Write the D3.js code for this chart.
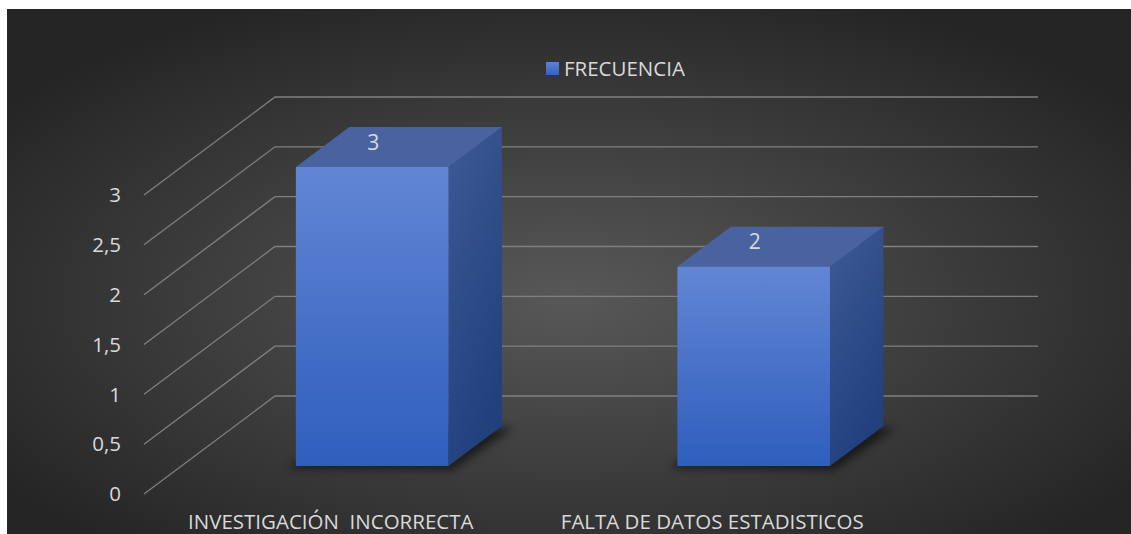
<!DOCTYPE html>
<html>
<head>
<meta charset="utf-8">
<script src="https://cdn.jsdelivr.net/npm/d3@7"></script>
<style>
  html, body { margin: 0; padding: 0; background: #ffffff; }
  svg { display: block; }
  text { font-family: "Open Sans", sans-serif; }
</style>
</head>
<body>
<svg id="chart" width="1131" height="534"></svg>
<script>
// ---- data ----
const categories = ["INVESTIGACIÓN  INCORRECTA", "FALTA DE DATOS ESTADISTICOS"];
const values = [3, 2];
const seriesName = "FRECUENCIA";
const yTicks = [0, 0.5, 1, 1.5, 2, 2.5, 3];
const yTickLabels = ["0", "0,5", "1", "1,5", "2", "2,5", "3"];

// ---- layout ----
const W = 1131, H = 534;
const svg = d3.select("#chart");
const defs = svg.append("defs");

const bg = defs.append("radialGradient").attr("id", "bg")
  .attr("cx", "50%").attr("cy", "55%").attr("r", "62%");
bg.append("stop").attr("offset", "0%").attr("stop-color", "#585858");
bg.append("stop").attr("offset", "100%").attr("stop-color", "#252525");

const front = defs.append("linearGradient").attr("id", "front")
  .attr("x1", 0).attr("y1", 0).attr("x2", 0).attr("y2", 1);
front.append("stop").attr("offset", "0%").attr("stop-color", "#6286d4");
front.append("stop").attr("offset", "100%").attr("stop-color", "#2f5ebd");

const side = defs.append("linearGradient").attr("id", "side")
  .attr("x1", 0).attr("y1", 0).attr("x2", 0.4).attr("y2", 1);
side.append("stop").attr("offset", "0%").attr("stop-color", "#3e5a97");
side.append("stop").attr("offset", "100%").attr("stop-color", "#21407d");

const leg = defs.append("linearGradient").attr("id", "leg")
  .attr("x1", 0).attr("y1", 0).attr("x2", 0).attr("y2", 1);
leg.append("stop").attr("offset", "0%").attr("stop-color", "#5b82d4");
leg.append("stop").attr("offset", "100%").attr("stop-color", "#3362c2");

defs.append("filter").attr("id", "blur").attr("x", "-20%").attr("y", "-20%")
  .attr("width", "140%").attr("height", "140%")
  .append("feGaussianBlur").attr("stdDeviation", 4);

svg.append("rect").attr("x", 7).attr("y", 9).attr("width", W - 7).attr("height", H - 9)
  .attr("fill", "url(#bg)");

// 3D projection
const DX = 131, DY = 98;       // full floor depth offset
const d0 = 0.2857, d1 = 0.694; // bar front / back depth
const x = d3.scaleBand().domain(categories).range([144, 907]).padding(0);
const y = d3.scaleLinear().domain([0, 3]).range([494, 195]);
const proj = (px, v, d) => [px + d * DX, y(v) - d * DY];

const gridColor = "#808080";
const textColor = "#d9d9d9";

// side wall diagonals + back wall horizontals
const grid = svg.append("g").attr("fill", "none").attr("stroke", gridColor).attr("stroke-width", 1.3);
yTicks.forEach(t => {
  const a = proj(x.range()[0], t, 0);
  const b = proj(x.range()[0], t, 1);
  const c = proj(x.range()[1], t, 1);
  grid.append("polyline").attr("points", [a, b, c].map(p => p.join(",")).join(" "));
});

// y tick labels
svg.append("g").selectAll("text").data(yTicks).join("text")
  .attr("x", 121).attr("y", d => y(d)).attr("dy", "0.35em")
  .attr("text-anchor", "end").attr("fill", textColor).attr("font-size", 20.5)
  .text((d, i) => yTickLabels[i]);

// bars
const bars = svg.append("g");
categories.forEach((c, i) => {
  const v = values[i];
  const bw = x.bandwidth() * 0.4;
  const x0 = x(c) + x.bandwidth() * 0.3, x1 = x0 + bw;
  const fbl = proj(x0, 0, d0), fbr = proj(x1, 0, d0), ftl = proj(x0, v, d0), ftr = proj(x1, v, d0);
  const bbl = proj(x0, 0, d1), bbr = proj(x1, 0, d1), btl = proj(x0, v, d1), btr = proj(x1, v, d1);
  const pts = a => a.map(p => p.join(",")).join(" ");
  // shadow
  bars.append("polygon")
    .attr("points", pts([[fbl[0] - 8, fbl[1] + 2], [fbr[0] + 4, fbr[1] + 4], [bbr[0] + 12, bbr[1] + 2], [bbl[0], bbl[1]]]))
    .attr("fill", "#000").attr("opacity", 0.55).attr("filter", "url(#blur)");
  // side face
  bars.append("polygon").attr("points", pts([ftr, btr, bbr, fbr])).attr("fill", "url(#side)");
  // top face
  bars.append("polygon").attr("points", pts([ftl, ftr, btr, btl])).attr("fill", "#48639f");
  // front face
  bars.append("rect").attr("x", ftl[0]).attr("y", ftl[1])
    .attr("width", bw).attr("height", fbl[1] - ftl[1]).attr("fill", "url(#front)");
  // value label
  bars.append("text").attr("x", (ftl[0] + ftr[0]) / 2 + 1).attr("y", ftl[1] - 17.5)
    .attr("text-anchor", "middle").attr("fill", textColor).attr("font-size", 21)
    .text(String(v));
});

// category labels
svg.append("g").selectAll("text").data(categories).join("text")
  .attr("x", d => x(d) + x.bandwidth() / 2 - 4).attr("y", 529)
  .attr("text-anchor", "middle").attr("fill", textColor).attr("font-size", 20.5)
  .style("white-space", "pre")
  .text(d => d);

// legend
svg.append("rect").attr("x", 546).attr("y", 62).attr("width", 13).attr("height", 13).attr("fill", "url(#leg)");
svg.append("text").attr("x", 564).attr("y", 76).attr("fill", textColor).attr("font-size", 20.5)
  .text(seriesName);
</script>
</body>
</html>
